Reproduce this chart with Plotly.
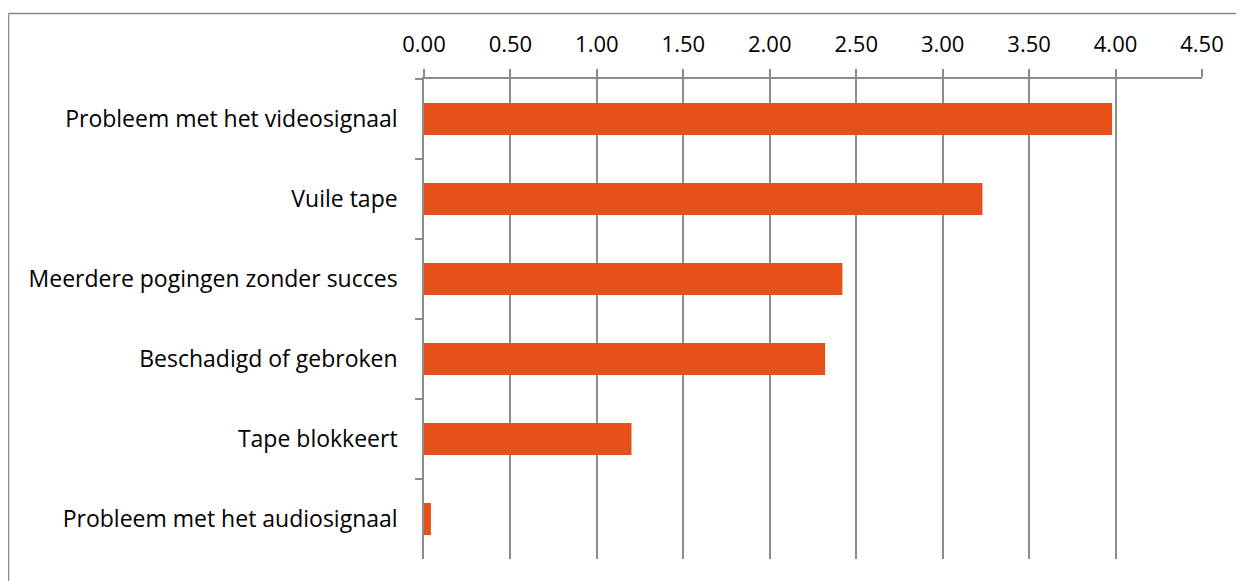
import plotly.graph_objects as go

categories = [
    "Probleem met het videosignaal",
    "Vuile tape",
    "Meerdere pogingen zonder succes",
    "Beschadigd of gebroken",
    "Tape blokkeert",
    "Probleem met het audiosignaal",
]
values = [3.98, 3.23, 2.42, 2.32, 1.20, 0.04]
x_ticks = [0, 0.5, 1.0, 1.5, 2.0, 2.5, 3.0, 3.5, 4.0, 4.5]

BAR = "#E8501A"
GRID = "#8C8C8C"
FONT = "Open Sans, Lato, sans-serif"

fig = go.Figure(
    go.Bar(
        x=values,
        y=categories,
        orientation="h",
        marker=dict(color=BAR, line=dict(width=0)),
        width=0.4,
        hoverinfo="x+y",
    )
)

fig.update_layout(
    width=1236,
    height=573,
    margin=dict(l=416, r=42, t=71, b=22),
    paper_bgcolor="white",
    plot_bgcolor="white",
    showlegend=False,
    font=dict(family=FONT, size=22, color="#000000"),
    xaxis=dict(
        side="top",
        range=[0, 4.5],
        tickvals=x_ticks,
        tickformat=".2f",
        showgrid=True,
        gridcolor=GRID,
        gridwidth=1.5,
        zeroline=False,
        showline=True,
        linecolor=GRID,
        linewidth=1.5,
        ticks="outside",
        ticklen=8,
        tickwidth=1.5,
        tickcolor=GRID,
        ticklabelstandoff=8,
        tickfont=dict(family=FONT, size=22, color="#000000"),
        fixedrange=True,
    ),
    yaxis=dict(
        categoryorder="array",
        categoryarray=categories,
        autorange="reversed",
        showgrid=False,
        zeroline=False,
        showline=True,
        linecolor=GRID,
        linewidth=1.5,
        ticks="outside",
        tickson="boundaries",
        ticklen=7,
        tickwidth=1.5,
        tickcolor=GRID,
        ticklabelstandoff=20,
        tickfont=dict(family=FONT, size=23, color="#000000"),
        fixedrange=True,
    ),
    shapes=[
        dict(type="line", xref="paper", yref="paper",
             x0=-0.5341, x1=1.07, y0=1.1365, y1=1.1365,
             line=dict(color="#888888", width=1.5)),
        dict(type="line", xref="paper", yref="paper",
             x0=-0.5341, x1=-0.5341, y0=1.1365, y1=-0.08,
             line=dict(color="#888888", width=1.5)),
    ],
)

fig.write_html("out.html")
